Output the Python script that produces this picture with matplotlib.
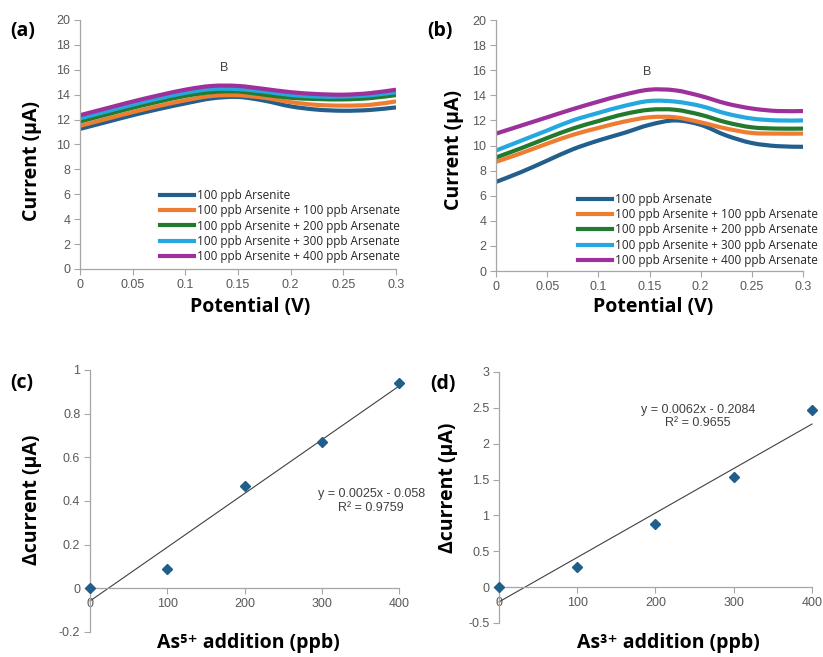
import numpy as np
import matplotlib
matplotlib.use("Agg")
import matplotlib.pyplot as plt
from matplotlib.ticker import FuncFormatter
from matplotlib.path import Path
from matplotlib.patches import PathPatch
from matplotlib.lines import Line2D

# ---------------- data ----------------
potential = [0.0, 0.025, 0.05, 0.075, 0.1, 0.125, 0.15, 0.175, 0.2, 0.225, 0.25, 0.275, 0.3]

labels_a = ["100 ppb Arsenite",
            "100 ppb Arsenite + 100 ppb Arsenate",
            "100 ppb Arsenite + 200 ppb Arsenate",
            "100 ppb Arsenite + 300 ppb Arsenate",
            "100 ppb Arsenite + 400 ppb Arsenate"]
labels_b = ["100 ppb Arsenate",
            "100 ppb Arsenite + 100 ppb Arsenate",
            "100 ppb Arsenite + 200 ppb Arsenate",
            "100 ppb Arsenite + 300 ppb Arsenate",
            "100 ppb Arsenite + 400 ppb Arsenate"]

a_as3 = [11.25, 11.8, 12.35, 12.85, 13.3, 13.7, 13.82, 13.52, 13.06, 12.8, 12.71, 12.77, 12.98]
a_100 = [11.5, 12.05, 12.6, 13.1, 13.55, 13.9, 13.95, 13.75, 13.4, 13.18, 13.12, 13.18, 13.46]
a_200 = [11.85, 12.4, 12.95, 13.45, 13.9, 14.2, 14.25, 14.0, 13.75, 13.65, 13.62, 13.72, 13.97]
a_300 = [12.1, 12.65, 13.2, 13.7, 14.15, 14.45, 14.45, 14.25, 13.98, 13.85, 13.85, 13.95, 14.2]
a_400 = [12.35, 12.9, 13.45, 13.95, 14.4, 14.7, 14.7, 14.46, 14.2, 14.05, 14.0, 14.12, 14.4]

b_as5 = [7.1, 7.9, 8.8, 9.7, 10.4, 11.0, 11.65, 12.0, 11.65, 10.8, 10.2, 9.95, 9.9]
b_100 = [8.7, 9.4, 10.15, 10.85, 11.4, 11.9, 12.25, 12.25, 11.85, 11.35, 11.0, 10.95, 10.95]
b_200 = [9.05, 9.8, 10.6, 11.35, 11.95, 12.5, 12.85, 12.85, 12.45, 11.85, 11.45, 11.35, 11.35]
b_300 = [9.6, 10.4, 11.2, 12.0, 12.6, 13.15, 13.55, 13.5, 13.15, 12.55, 12.15, 12.0, 12.0]
b_400 = [10.95, 11.6, 12.25, 12.9, 13.5, 14.05, 14.45, 14.4, 13.95, 13.35, 12.95, 12.75, 12.75]

addition = [0, 100, 200, 300, 400]
delta_c = [0.0, 0.09, 0.47, 0.67, 0.94]
delta_d = [0.0, 0.28, 0.88, 1.54, 2.47]

eq_c = ["y = 0.0025x - 0.058", "R\u00b2 = 0.9759"]
eq_d = ["y = 0.0062x - 0.2084", "R\u00b2 = 0.9655"]

colors = ["#225f8c", "#ed7d31", "#237a2f", "#25a8e0", "#9e309c"]

# ---------------- style ----------------
TICK_FONT = "Liberation Sans"
BOLD_FONT = ["Open Sans", "DejaVu Sans"]
tick_color = "#595959"
spine_color = "#a6a6a6"
LABEL_SIZE = 14

W, H = 823, 657
fig = plt.figure(figsize=(8.23, 6.57), dpi=100)


def ftext(x, y, s, **kw):
    fig.text(x / W, 1 - y / H, s, fontsize=LABEL_SIZE, fontweight="bold",
             family=BOLD_FONT, ha="center", va="center", **kw)


def style_axes(ax):
    for s in ["top", "right"]:
        ax.spines[s].set_visible(False)
    for s in ["left", "bottom"]:
        ax.spines[s].set_color(spine_color)
        ax.spines[s].set_linewidth(0.9)
    ax.tick_params(axis="both", colors=spine_color, labelcolor=tick_color,
                   labelsize=9, length=4, width=0.8, direction="out", pad=3)
    for lab in ax.get_xticklabels() + ax.get_yticklabels():
        lab.set_fontfamily(TICK_FONT)


def fmt(v, pos):
    s = ("%.2f" % v).rstrip("0").rstrip(".")
    return "0" if s in ("-0", "") else s


def smooth_path(xs, ys):
    """Smoothed line (Excel style): cubic Bezier segments through the points."""
    p = np.column_stack([xs, ys]).astype(float)
    n = len(p)
    verts = [p[0]]
    codes = [Path.MOVETO]
    for i in range(n - 1):
        p_prev = p[i - 1] if i > 0 else p[i]
        p_next2 = p[i + 2] if i + 2 < n else p[i + 1]
        c1 = p[i] + (p[i + 1] - p_prev) / 6.0
        c2 = p[i + 1] - (p_next2 - p[i]) / 6.0
        verts += [c1, c2, p[i + 1]]
        codes += [Path.CURVE4] * 3
    return Path(verts, codes)


def cv_panel(rect, series, labels, legend_anchor, b_pos):
    ax = fig.add_axes(rect)
    handles = []
    for y, c, lab in zip(series, colors, labels):
        patch = PathPatch(smooth_path(potential, y), facecolor="none", edgecolor=c,
                          lw=3.0, capstyle="butt", joinstyle="round")
        ax.add_patch(patch)
        handles.append(Line2D([], [], color=c, lw=3.0, label=lab))
    ax.set_xlim(0, 0.3)
    ax.set_ylim(0, 20)
    ax.set_xticks([0, 0.05, 0.1, 0.15, 0.2, 0.25, 0.3])
    ax.set_yticks(range(0, 21, 2))
    ax.xaxis.set_major_formatter(FuncFormatter(fmt))
    style_axes(ax)
    ax.text(b_pos[0], b_pos[1], "B", fontsize=9, color="#404040",
            family=TICK_FONT, ha="center", va="center")
    leg = ax.legend(handles=handles, loc="upper left", bbox_to_anchor=legend_anchor,
                    frameon=False, fontsize=8.5, handlelength=2.9, handletextpad=0.2,
                    labelspacing=0.2, borderpad=0, borderaxespad=0)
    for t in leg.get_texts():
        t.set_family(BOLD_FONT)
        t.set_color("#262626")
    return ax


ax_a = cv_panel([0.0972, 0.5906, 0.384, 0.379],
                [a_as3, a_100, a_200, a_300, a_400], labels_a,
                (0.253, 0.322), (0.137, 16.15))
ax_b = cv_panel([0.6027, 0.5875, 0.373, 0.382],
                [b_as5, b_100, b_200, b_300, b_400], labels_b,
                (0.267, 0.312), (0.148, 15.85))


def cal_panel(rect, yvals, ylim, yticks, eq, eq_pos):
    ax = fig.add_axes(rect)
    ax.set_xlim(0, 400)
    ax.set_ylim(*ylim)
    ax.set_xticks(addition)
    ax.set_yticks(yticks)
    ax.yaxis.set_major_formatter(FuncFormatter(fmt))
    ax.spines["bottom"].set_position(("data", 0))
    style_axes(ax)
    slope, intercept = np.polyfit(addition, yvals, 1)
    xs = np.array([addition[0], addition[-1]])
    ax.plot(xs, slope * xs + intercept, color="#404040", lw=0.8, clip_on=False)
    ax.plot(addition, yvals, linestyle="none", marker="D", ms=5.5,
            color="#1f5f8a", clip_on=False, zorder=5)
    ax.text(eq_pos[0], eq_pos[1], eq[0] + "\n" + eq[1], fontsize=9,
            color="#404040", family=TICK_FONT, ha="center", va="center",
            multialignment="center", transform=ax.transAxes, linespacing=1.15)
    return ax


ax_c = cal_panel([0.1094, 0.0381, 0.3754, 0.3988], delta_c, (-0.2, 1.0),
                 [-0.2, 0, 0.2, 0.4, 0.6, 0.8, 1.0], eq_c, (0.91, 0.5))
ax_d = cal_panel([0.6063, 0.0518, 0.3803, 0.382], delta_d, (-0.5, 3.0),
                 [-0.5, 0, 0.5, 1, 1.5, 2, 2.5, 3], eq_d, (0.636, 0.823))

# axis titles
ftext(250, 307, "Potential (V)")
ftext(653, 307, "Potential (V)")
ftext(32, 161, "Current (\u03bcA)", rotation=90)
ftext(454, 150, "Current (\u03bcA)", rotation=90)
ftext(32, 500, "\u0394current (\u03bcA)", rotation=90)
ftext(448, 488, "\u0394current (\u03bcA)", rotation=90)
ftext(248, 643, "As\u2075\u207a addition (ppb)")
ftext(668, 643, "As\u00b3\u207a addition (ppb)")

# panel letters
for txt, x, y in [("(a)", 23, 31), ("(b)", 440, 31), ("(c)", 22, 383), ("(d)", 443, 384)]:
    ftext(x, y, txt)

fig.savefig("out.png", dpi=100)
